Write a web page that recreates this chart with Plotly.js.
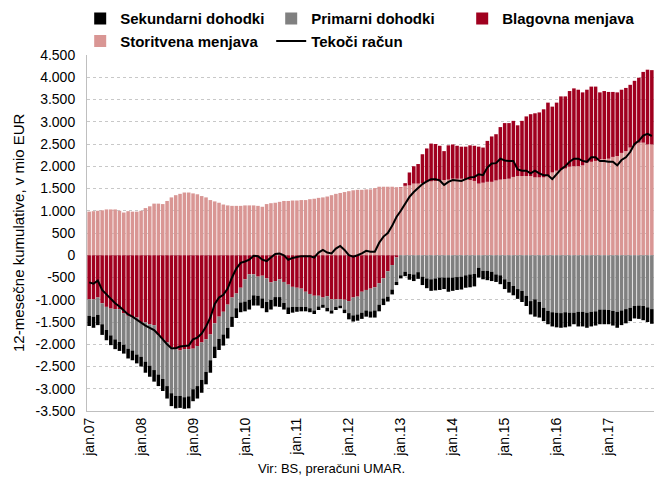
<!DOCTYPE html>
<html>
<head>
<meta charset="utf-8">
<script src="https://cdn.plot.ly/plotly-3.0.1.min.js"></script>
<style>html,body{margin:0;padding:0;background:#fff;}#chart{width:654px;height:477px;}</style>
</head>
<body>
<div id="chart"></div>
<script>
// Month categories jan.07 .. nov.17
const monthNames = ['jan','feb','mar','apr','maj','jun','jul','avg','sep','okt','nov','dec'];
const months = [];
for (let y = 2007; y <= 2017; y++) {
  for (let m = 0; m < 12; m++) {
    if (y === 2017 && m > 10) break;
    months.push(monthNames[m] + '.' + String(y).slice(2));
  }
}
const janTicks = months.filter(function (m) { return m.indexOf('jan') === 0; });

// Storitvena menjava (services), mio EUR
const services = [
  980, 990, 1000, 1010, 1030, 1030, 1030, 1000, 960, 990, 980, 980,
  1000, 1060, 1100, 1160, 1160, 1150, 1220, 1300, 1350, 1380,
  1410, 1410, 1390, 1370, 1330, 1300, 1240, 1210, 1180, 1140, 1120, 1110,
  1110, 1110, 1120, 1120, 1120, 1110, 1090, 1150, 1170, 1180, 1200,
  1220, 1220, 1230, 1230, 1240, 1240, 1260, 1270, 1290, 1300, 1320, 1350,
  1380, 1400, 1420, 1440,
  1460, 1470, 1470, 1480, 1480, 1510, 1540, 1540, 1540, 1540, 1530, 1520,
  1560, 1570, 1610, 1610, 1620, 1640, 1660, 1670, 1680, 1690, 1700,
  1720, 1720, 1720, 1710, 1690, 1670,
  1610, 1630, 1650, 1650, 1680, 1700, 1710, 1720, 1760, 1780, 1780, 1780,
  1780, 1750, 1750, 1750, 1780, 1860, 1900, 1930, 1950, 1990, 2000,
  2000, 2020, 2080, 2100, 2120, 2160, 2160, 2170, 2210, 2230, 2300, 2340,
  2420, 2470, 2530, 2530, 2490, 2490
];

// Blagovna menjava (goods), mio EUR
const goods = [
  -990, -990, -950, -1080, -1160, -1200, -1210, -1210, -1300, -1360, -1400, -1400,
  -1500, -1510, -1550, -1570, -1800, -1890, -1960, -2070, -2110, -2140,
  -2110, -2110, -2100, -2040, -1960, -1890, -1780, -1530, -1380, -1270, -1110, -950,
  -860, -730, -540, -430, -430, -480, -460, -520, -610, -580, -540,
  -600, -660, -710, -730, -750, -820, -870, -910, -910, -950, -920, -990,
  -990, -990, -1000, -1030,
  -950, -930, -820, -780, -750, -720, -630, -520, -360, -220, -50, 10,
  60, 290, 390, 440, 650, 760, 850, 830, 780, 650, 770,
  770, 740, 720, 730, 780, 790,
  830, 790, 920, 1020, 1040, 1180, 1260, 1250, 1260, 1140, 1240, 1340,
  1390, 1440, 1460, 1530, 1650, 1480, 1530, 1640, 1620, 1700, 1750,
  1720, 1640, 1640, 1690, 1670, 1500, 1530, 1500, 1460, 1430, 1420, 1420,
  1410, 1450, 1460, 1590, 1680, 1670
];

// Primarni dohodki (primary income), mio EUR
const primary = [
  -370, -390, -390, -470, -520, -600, -680, -740, -710, -740, -740, -830,
  -780, -880, -930, -1010, -880, -890, -980, -1030, -1050, -1020,
  -1080, -1060, -910, -900, -840, -730, -580, -520, -500, -510, -520, -430,
  -330, -330, -500, -570, -470, -430, -510, -530, -390, -360, -400,
  -470, -510, -450, -430, -410, -340, -320, -330, -240, -160, -260, -250,
  -170, -140, -220, -270,
  -400, -400, -470, -460, -510, -520, -480, -450, -570, -550, -550, -450,
  -370, -420, -430, -380, -480, -520, -540, -520, -500, -500, -500,
  -500, -490, -480, -450, -430, -420,
  -280, -350, -350, -370, -430, -450, -540, -600, -690, -760, -800, -910,
  -1030, -990, -1050, -1180, -1250, -1280, -1290, -1300, -1280, -1290, -1290,
  -1270, -1270, -1290, -1270, -1260, -1220, -1220, -1230, -1250, -1270, -1240, -1210,
  -1180, -1140, -1130, -1140, -1170, -1210
];

// Sekundarni dohodki (secondary income), mio EUR
const secondary = [
  -230, -250, -230, -240, -230, -220, -220, -200, -200, -220, -220, -200,
  -220, -250, -250, -260, -260, -270, -280, -290, -280, -270,
  -260, -270, -270, -280, -290, -280, -280, -260, -250, -250, -240, -230,
  -220, -220, -220, -220, -230, -220, -220, -230, -220, -210, -220,
  -150, -150, -130, -110, -100, -100, -90, -80, -80, -70, -80, -70,
  -70, -60, -80, -140,
  -140, -140, -140, -140, -140, -160, -150, -150, -110, -110, -70, -70,
  -100, -130, -150, -150, -190, -220, -260, -270, -280, -260, -320,
  -300, -290, -290, -280, -290, -280,
  -220, -190, -210, -210, -170, -200, -220, -240, -210, -220, -250, -230,
  -300, -390, -350, -300, -300, -320, -330, -330, -340, -310, -260,
  -330, -330, -340, -330, -320, -330, -330, -320, -330, -360, -330, -320,
  -300, -280, -300, -320, -330, -330
];

// Tekoči račun (current account), mio EUR
const currentAccount = [
  -610, -640, -570, -780, -880, -990, -1080, -1150, -1250, -1330, -1380, -1450,
  -1500, -1580, -1630, -1680, -1780, -1900, -2000, -2090, -2090, -2050,
  -2040, -2030, -1890, -1850, -1760, -1600, -1400, -1100, -950, -890, -750, -500,
  -300, -170, -140, -100, -10, -20, -100, -130, -50, 30, 40,
  0, -100, -60, -40, -20, -20, -20, -50, 60, 120, 60, 40,
  150, 210, 120, 0,
  -30, 0, 40, 100, 80, 80, 280, 420, 500, 660, 860, 1000,
  1150, 1310, 1420, 1520, 1600, 1660, 1710, 1710, 1680, 1580, 1650,
  1690, 1680, 1670, 1710, 1750, 1760,
  1820, 1800, 1970, 2060, 2070, 2170, 2130, 2120, 2120, 1930, 1900, 1900,
  1840, 1900, 1840, 1800, 1800, 1710, 1820, 1930, 2000, 2100, 2170,
  2170, 2120, 2100, 2200, 2200, 2120, 2120, 2100, 2100, 2020, 2140, 2200,
  2320, 2500, 2570, 2690, 2730, 2680
];

const yTickVals = [-3500, -3000, -2500, -2000, -1500, -1000, -500, 0, 500, 1000, 1500, 2000, 2500, 3000, 3500, 4000, 4500];
const yTickText = ['-3.500', '-3.000', '-2.500', '-2.000', '-1.500', '-1.000', '-500', '0', '500', '1.000', '1.500', '2.000', '2.500', '3.000', '3.500', '4.000', '4.500'];

const FONT = 'Liberation Sans Narrow, Arial Narrow, sans-serif';

const traces = [
  {type: 'bar', name: 'Storitvena menjava', x: months, y: services, marker: {color: '#d99694'}, legendrank: 4, hoverinfo: 'skip'},
  {type: 'bar', name: 'Blagovna menjava', x: months, y: goods, marker: {color: '#a0001f'}, legendrank: 3, hoverinfo: 'skip'},
  {type: 'bar', name: 'Primarni dohodki', x: months, y: primary, marker: {color: '#808080'}, legendrank: 2, hoverinfo: 'skip'},
  {type: 'bar', name: 'Sekundarni dohodki', x: months, y: secondary, marker: {color: '#000000'}, legendrank: 1, hoverinfo: 'skip'},
  {type: 'scatter', mode: 'lines', name: 'Tekoči račun', x: months, y: currentAccount, line: {color: '#000000', width: 2}, legendrank: 5, hoverinfo: 'skip'}
];

const layout = {
  width: 654, height: 477,
  margin: {l: 87, r: 0, t: 55, b: 66, pad: 0},
  paper_bgcolor: '#ffffff', plot_bgcolor: '#ffffff',
  barmode: 'relative', bargap: 0.18,
  font: {family: FONT, size: 13, color: '#000'},
  showlegend: true,
  legend: {
    orientation: 'h', x: -0.012, xanchor: 'left', y: 1.148, yanchor: 'top',
    entrywidth: 146, entrywidthmode: 'pixels',
    font: {family: FONT, size: 15, color: '#000', weight: 'bold'},
    itemwidth: 30, tracegroupgap: 0, bgcolor: 'rgba(0,0,0,0)'
  },
  xaxis: {
    type: 'category', range: [-0.5, months.length - 0.5],
    tickvals: janTicks, ticktext: janTicks, tickangle: -90,
    showgrid: false, showline: true, linecolor: '#bfbfbf', linewidth: 1,
    ticks: '', tickfont: {family: FONT, size: 14, color: '#000'},
    fixedrange: true
  },
  yaxis: {
    range: [-3500, 4500], tickvals: yTickVals, ticktext: yTickText,
    showgrid: true, gridcolor: '#c8c8c8', griddash: 'dot', gridwidth: 1,
    zeroline: false, showline: true, linecolor: '#bfbfbf', linewidth: 1,
    ticks: '', ticklabelstandoff: 8,
    tickfont: {family: FONT, size: 14, color: '#000'},
    fixedrange: true
  },
  annotations: [
    {text: '12-mesečne kumulative, v mio EUR', xref: 'paper', yref: 'paper', x: 0, y: 0.5,
     xshift: -69, textangle: -90, showarrow: false, xanchor: 'center', yanchor: 'middle',
     font: {family: FONT, size: 15, color: '#000'}},
    {text: 'Vir: BS, preračuni UMAR.', xref: 'paper', yref: 'paper', x: (331 - 87) / 567, y: 0,
     yshift: -57, showarrow: false, xanchor: 'center', yanchor: 'middle',
     font: {family: FONT, size: 13, color: '#000'}}
  ]
};

Plotly.newPlot('chart', traces, layout, {displayModeBar: false, staticPlot: true});
</script>
</body>
</html>
